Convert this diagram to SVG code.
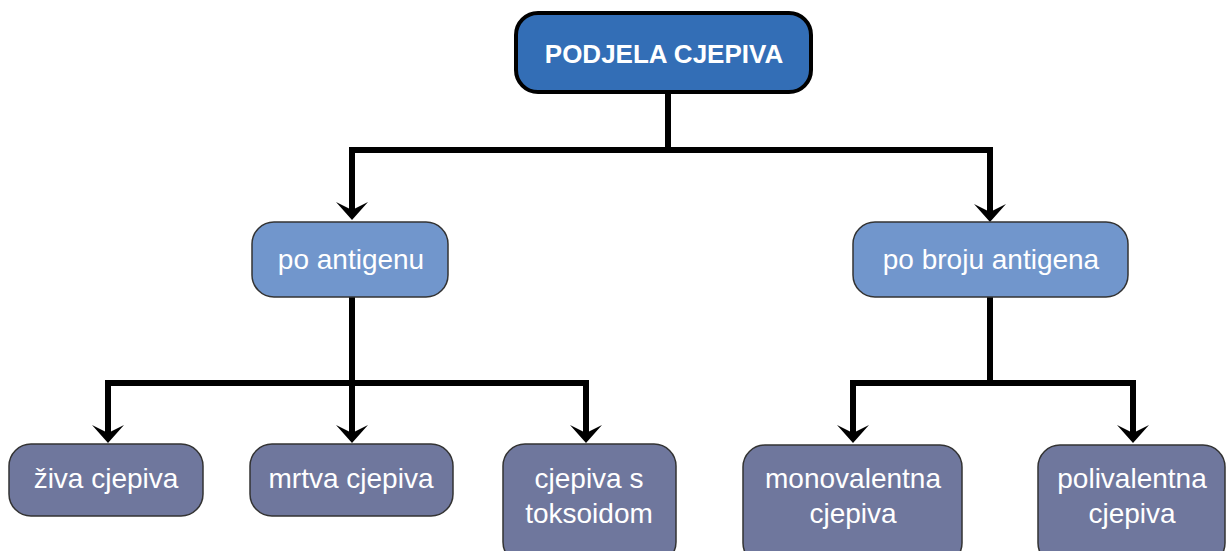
<svg xmlns="http://www.w3.org/2000/svg" width="1228" height="551" viewBox="0 0 1228 551">
<style>
text{font-family:"Liberation Sans",Arial,sans-serif;fill:#ffffff;text-anchor:middle}
.top{fill:#336eb6;stroke:#000;stroke-width:4}
.l2{fill:#7196cc;stroke:#333;stroke-width:1.5}
.l3{fill:#6f779d;stroke:#333;stroke-width:1.5}
.t1{font-size:26px;font-weight:bold}
.t2{font-size:28px}
.c{fill:none;stroke:#000;stroke-width:6;stroke-linejoin:miter}
</style>
<defs>
<marker id="arr" markerUnits="userSpaceOnUse" markerWidth="18" markerHeight="32" viewBox="0 0 18 32" refX="8" refY="16" orient="auto">
<path d="M0,0 L18,16 L0,32 L8,16 Z" fill="#000"/>
</marker>
</defs>
<g id="connectors">
<path class="c" d="M668,93 V150"/>
<path class="c" d="M668,150 H352 V210" marker-end="url(#arr)"/>
<path class="c" d="M668,150 H990 V212" marker-end="url(#arr)"/>
<path class="c" d="M352,297 V383"/>
<path class="c" d="M352,383 H108 V433" marker-end="url(#arr)"/>
<path class="c" d="M352,383 V433" marker-end="url(#arr)"/>
<path class="c" d="M352,383 H586 V433" marker-end="url(#arr)"/>
<path class="c" d="M990,297 V383"/>
<path class="c" d="M990,383 H853 V433" marker-end="url(#arr)"/>
<path class="c" d="M990,383 H1133 V433" marker-end="url(#arr)"/>
</g>
<g id="podjela">
<rect class="top" x="516" y="13" width="295" height="79" rx="22"/>
<text class="t1" x="664" y="63">PODJELA CJEPIVA</text>
</g>
<g id="po-antigenu">
<rect class="l2" x="252" y="222" width="196" height="75" rx="22"/>
<text class="t2" x="351" y="269">po antigenu</text>
</g>
<g id="po-broju">
<rect class="l2" x="853" y="222" width="275" height="75" rx="22"/>
<text class="t2" x="991" y="269">po broju antigena</text>
</g>
<g id="ziva">
<rect class="l3" x="9" y="444" width="194" height="72" rx="22"/>
<text class="t2" x="106" y="488">živa cjepiva</text>
</g>
<g id="mrtva">
<rect class="l3" x="250" y="444" width="203" height="72" rx="22"/>
<text class="t2" x="351" y="488">mrtva cjepiva</text>
</g>
<g id="toksoid">
<rect class="l3" x="503" y="444" width="173" height="120" rx="22"/>
<text class="t2" x="589" y="488">cjepiva s</text>
<text class="t2" x="589" y="523">toksoidom</text>
</g>
<g id="mono">
<rect class="l3" x="743" y="445" width="219" height="120" rx="22"/>
<text class="t2" x="853" y="488">monovalentna</text>
<text class="t2" x="853" y="523">cjepiva</text>
</g>
<g id="poli">
<rect class="l3" x="1038" y="445" width="187" height="120" rx="22"/>
<text class="t2" x="1132" y="488">polivalentna</text>
<text class="t2" x="1132" y="523">cjepiva</text>
</g>
</svg>
